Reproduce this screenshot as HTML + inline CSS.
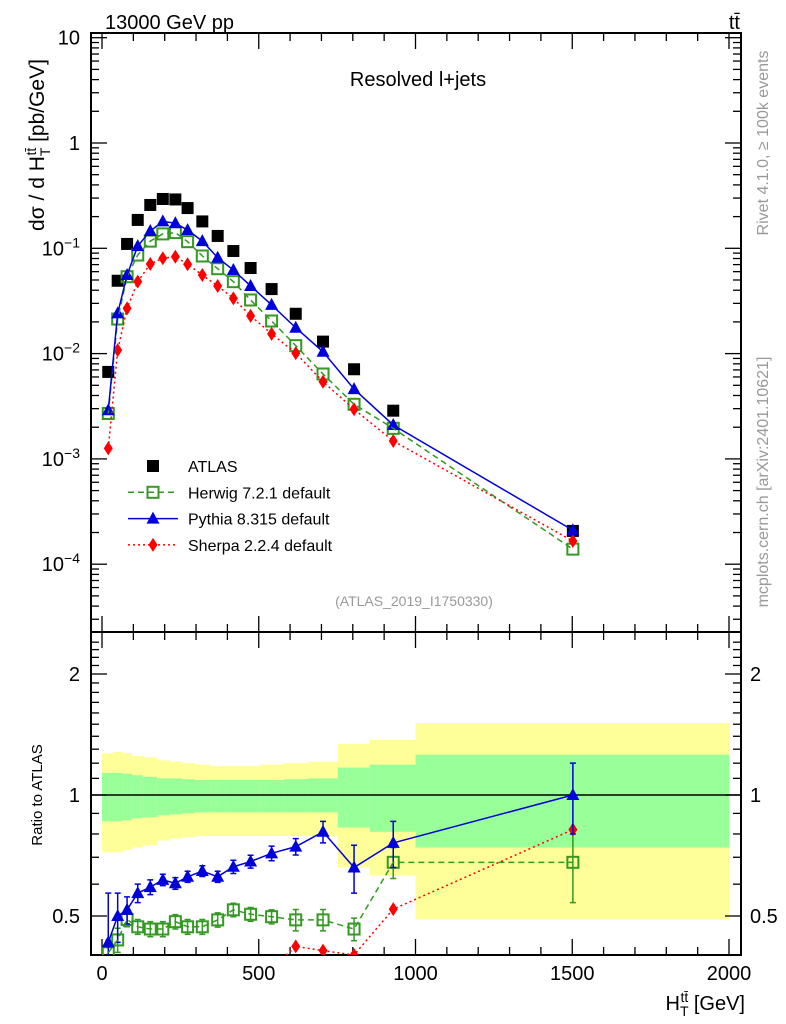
<!DOCTYPE html>
<html><head><meta charset="utf-8"><style>
html,body{margin:0;padding:0;background:#fff;width:786px;height:1024px;overflow:hidden;}
svg{display:block;font-family:"Liberation Sans",sans-serif;}
</style></head><body>
<svg id="c" width="786" height="1024" viewBox="0 0 786 1024" xmlns="http://www.w3.org/2000/svg">
<defs>
<clipPath id="cu"><rect x="91" y="33" width="650" height="599"/></clipPath>
<clipPath id="cl"><rect x="91" y="632" width="650" height="323"/></clipPath>
</defs>
<g id="bands" clip-path="url(#cl)"></g>
<g id="grid"></g>
<g id="series"></g>
<text x="105" y="29" font-size="20">13000 GeV pp</text>
<text x="740" y="29" font-size="20" text-anchor="end">tt̄</text>
<text x="418" y="86" font-size="20" text-anchor="middle">Resolved l+jets</text>
<text x="414" y="606" font-size="14" fill="#999" text-anchor="middle">(ATLAS_2019_I1750330)</text>
<text transform="translate(44,145) rotate(-90)" font-size="21" text-anchor="middle">dσ / d H<tspan font-size="14" dy="6">T</tspan><tspan font-size="14" dy="-14" dx="-8">tt̄</tspan><tspan dy="8"> [pb/GeV]</tspan></text>
<text transform="translate(42,795) rotate(-90)" font-size="15" text-anchor="middle">Ratio to ATLAS</text>
<text x="745" y="1010" font-size="20" text-anchor="end">H<tspan font-size="14" dy="6">T</tspan><tspan font-size="14" dy="-14" dx="-8">tt̄</tspan><tspan dy="8"> [GeV]</tspan></text>
<text transform="translate(768,143) rotate(-90)" font-size="16" fill="#999" text-anchor="middle">Rivet 4.1.0, ≥ 100k events</text>
<text transform="translate(768,482) rotate(-90)" font-size="16" fill="#999" text-anchor="middle">mcplots.cern.ch [arXiv:2401.10621]</text>
<g id="legend"></g>
</svg>
<script>
const xCenters=[20,50,80,114,154,194,234,273,320,369,419,474,541,618,705,804,929,1502];
const binEdges=[0,35,65,95,130,175,215,255,295,345,395,445,505,580,655,752,854,1000,2000];
const atlas=[6.7e-3,0.0492,0.110,0.186,0.258,0.294,0.291,0.241,0.180,0.131,0.0942,0.065,0.041,0.0239,0.013,0.0071,0.00287,2.07e-4];
const herwig=[2.7e-3,0.0213,0.0537,0.0863,0.117,0.137,0.141,0.1156,0.0845,0.064,0.0482,0.0323,0.0204,0.0119,6.4e-3,3.3e-3,1.95e-3,1.39e-4];
const pythia=[2.9e-3,0.0241,0.0557,0.105,0.146,0.180,0.173,0.149,0.117,0.0814,0.0622,0.0439,0.029,0.0176,0.0104,4.6e-3,2.1e-3,2.1e-4];
const sherpa=[1.26e-3,0.0108,0.0269,0.0482,0.071,0.0804,0.0832,0.0706,0.0557,0.0439,0.0335,0.0228,0.0154,0.0101,5.4e-3,2.96e-3,1.48e-3,1.66e-4];
const ratioHerwig=[0.405,0.436,0.49,0.47,0.464,0.464,0.484,0.47,0.47,0.489,0.518,0.505,0.498,0.489,0.489,0.464,0.68,0.68];
const ratioPythia=[0.43,0.5,0.518,0.57,0.59,0.615,0.603,0.626,0.647,0.626,0.663,0.683,0.716,0.744,0.81,0.66,0.76,1.0];
const ratioSherpa=[0.19,0.22,0.24,0.26,0.28,0.27,0.29,0.29,0.31,0.33,0.36,0.35,0.37,0.42,0.41,0.40,0.52,0.82];
const errPythia=[0.14,0.07,0.04,0.03,0.025,0.02,0.02,0.02,0.02,0.02,0.025,0.025,0.03,0.035,0.05,0.09,0.1,0.2];
const errHerwig=[0.03,0.03,0.02,0.02,0.02,0.02,0.02,0.02,0.02,0.02,0.02,0.02,0.02,0.03,0.03,0.03,0.06,0.14];
const greenUp=[1.135,1.135,1.13,1.12,1.11,1.10,1.10,1.095,1.09,1.09,1.09,1.09,1.09,1.095,1.10,1.17,1.19,1.26];
const greenLo=[0.86,0.86,0.865,0.875,0.88,0.89,0.895,0.9,0.905,0.905,0.905,0.905,0.905,0.905,0.905,0.83,0.81,0.74];
const yellowUp=[1.27,1.28,1.27,1.25,1.24,1.22,1.21,1.20,1.19,1.18,1.18,1.18,1.19,1.20,1.21,1.34,1.37,1.51];
const yellowLo=[0.72,0.72,0.73,0.74,0.75,0.77,0.78,0.785,0.79,0.79,0.79,0.79,0.79,0.79,0.79,0.66,0.63,0.49];
const xTicks=[0,500,1000,1500,2000];
const ratioTicks=[0.5,1,2];

const NS="http://www.w3.org/2000/svg";
function X(v){return 102+v*0.3135;}
function YU(v){return 143-105.3*Math.log10(v);}
function YL(r){return 795-121*Math.log2(r);}
function mk(tag,attrs,parent){const e=document.createElementNS(NS,tag);for(const k in attrs)e.setAttribute(k,attrs[k]);parent.appendChild(e);return e;}
const grid=document.getElementById('grid'),series=document.getElementById('series'),bands=document.getElementById('bands'),legend=document.getElementById('legend');

for(let i=0;i<greenUp.length;i++){
  const x0=X(binEdges[i]),x1=X(binEdges[i+1]);
  let r=mk('rect',{x:x0,y:YL(yellowUp[i]),width:x1-x0+0.5,height:YL(yellowLo[i])-YL(yellowUp[i]),fill:'#ffff99'},bands);
  
  
  let g=mk('rect',{x:x0,y:YL(greenUp[i]),width:x1-x0+0.5,height:YL(greenLo[i])-YL(greenUp[i]),fill:'#99ff99'},bands);
  
  
}
let one=mk('line',{x1:91,x2:741,y1:YL(1),y2:YL(1),stroke:'#000','stroke-width':1.5},grid);



let f1=mk('rect',{x:91,y:33,width:650,height:599,fill:'none',stroke:'#000','stroke-width':2},grid);


let f2=mk('rect',{x:91,y:632,width:650,height:323,fill:'none',stroke:'#000','stroke-width':2},grid);



for(let v=0;v<=2000;v+=100){
  const major=v%500===0,L=major?16:8,x=X(v);
  for(const [y0,d] of [[632,-1],[33,1],[955,-1],[632,1]]){
    let t=mk('line',{x1:x,x2:x,y1:y0,y2:y0+d*L,stroke:'#000','stroke-width':1.3},grid);
    
    
  }
}
xTicks.forEach(v=>{
  let t=mk('text',{x:X(v),y:980,'font-size':20,'text-anchor':'middle'},grid);
  t.textContent=v;
  
  
});
for(let e=-5;e<=1;e++){
  for(let m=1;m<=9;m++){
    const v=m*Math.pow(10,e),y=YU(v);
    if(y<33||y>632)continue;
    const L=m===1?16:8;
    for(const [x0,d] of [[91,1],[741,-1]]){
      let t=mk('line',{x1:x0,x2:x0+d*L,y1:y,y2:y,stroke:'#000','stroke-width':1.3},grid);
      
      
    }
    if(m===1){
      let t=mk('text',{x:80,y:y+7,'font-size':20,'text-anchor':'end'},grid);
      
      
      if(e===1)t.textContent='10';else if(e===0)t.textContent='1';
      else{t.innerHTML='10<tspan font-size="14" dy="-8">'+('−'+(-e))+'</tspan>';}
    }
  }
}
for(let r=0.4;r<=2.5;r+=0.1){
  const rr=Math.round(r*10)/10,y=YL(rr);
  if(y<632||y>955)continue;
  const major=ratioTicks.includes(rr),L=major?16:8;
  for(const [x0,d] of [[91,1],[741,-1]]){
    let t=mk('line',{x1:x0,x2:x0+d*L,y1:y,y2:y,stroke:'#000','stroke-width':1.3},grid);
    
    
  }
}
ratioTicks.forEach(r=>{
  let t=mk('text',{x:80,y:YL(r)+7,'font-size':20,'text-anchor':'end'},grid);
  t.textContent=r;
  
  
  let t2=mk('text',{x:750,y:YL(r)+7,'font-size':20},grid);
  t2.textContent=r;
  
  
});

function marker(kind,x,y,parent){
  let e;
  if(kind==='sq')e=mk('rect',{x:x-6,y:y-6,width:12,height:12,fill:'#000'},parent);
  else if(kind==='osq')e=mk('rect',{x:x-5.5,y:y-5.5,width:11,height:11,fill:'#fff','fill-opacity':0.01,stroke:'#339922','stroke-width':2},parent);
  else if(kind==='tri')e=mk('polygon',{points:`${x},${y-7} ${x-6.5},${y+5} ${x+6.5},${y+5}`,fill:'#0000dd'},parent);
  else e=mk('polygon',{points:`${x},${y-7} ${x-4.5},${y} ${x},${y+7} ${x+4.5},${y}`,fill:'#ff0000'},parent);
  return e;
}
const styles={h:{c:'#339922',dash:'6,4',w:1.5,m:'osq'},p:{c:'#0000dd',dash:'',w:1.5,m:'tri'},s:{c:'#ff0000',dash:'2,3',w:1.5,m:'s'}};
function line(vals,fy,st,clip,name){
  const pts=vals.map((v,i)=>X(xCenters[i])+','+fy(v)).join(' ');
  let l=mk('polyline',{points:pts,fill:'none',stroke:st.c,'stroke-width':st.w,'stroke-dasharray':st.dash,'clip-path':clip},series);
  
  
}
const gu=mk('g',{'clip-path':'url(#cu)'},series);


const gl=mk('g',{'clip-path':'url(#cl)'},series);



line(herwig,YU,styles.h,'url(#cu)','herwig-line');
line(pythia,YU,styles.p,'url(#cu)','pythia-line');
line(sherpa,YU,styles.s,'url(#cu)','sherpa-line');
atlas.forEach((v,i)=>{let m=marker('sq',X(xCenters[i]),YU(v),gu);});
herwig.forEach((v,i)=>{let m=marker('osq',X(xCenters[i]),YU(v),gu);});
sherpa.forEach((v,i)=>{let m=marker('s',X(xCenters[i]),YU(v),gu);});
pythia.forEach((v,i)=>{let m=marker('tri',X(xCenters[i]),YU(v),gu);});

line(ratioHerwig,YL,styles.h,'url(#cl)','herwig-ratio-line');
line(ratioSherpa,YL,styles.s,'url(#cl)','sherpa-ratio-line');
line(ratioPythia,YL,styles.p,'url(#cl)','pythia-ratio-line');
function errbar(x,v,e,c){
  const y1=YL(v+e),y2=YL(Math.max(v-e,0.01));
  let b=mk('path',{d:`M${x},${y1}V${y2}M${x-3},${y1}H${x+3}M${x-3},${y2}H${x+3}`,stroke:c,'stroke-width':1.5,fill:'none'},gl);
  
  
}
ratioHerwig.forEach((v,i)=>{errbar(X(xCenters[i]),v,errHerwig[i],'#339922');let m=marker('osq',X(xCenters[i]),YL(v),gl);});
ratioSherpa.forEach((v,i)=>{let m=marker('s',X(xCenters[i]),YL(v),gl);});
ratioPythia.forEach((v,i)=>{errbar(X(xCenters[i]),v,errPythia[i],'#0000dd');let m=marker('tri',X(xCenters[i]),YL(v),gl);});

const legNames=['ATLAS','Herwig 7.2.1 default','Pythia 8.315 default','Sherpa 2.2.4 default'];
const legKinds=['sq','osq','tri','s'];
const legStyles=[null,styles.h,styles.p,styles.s];
legNames.forEach((n,i)=>{
  const y=466+i*26.3;
  if(legStyles[i]){
    let l=mk('line',{x1:128,x2:178,y1:y,y2:y,stroke:legStyles[i].c,'stroke-width':1.5,'stroke-dasharray':legStyles[i].dash},legend);
    
    
  }
  let m=marker(legKinds[i],153,y,legend);
  
  
  let t=mk('text',{x:188,y:y+6,'font-size':16},legend);
  t.textContent=n;
  
  
});
</script>
</body></html>
